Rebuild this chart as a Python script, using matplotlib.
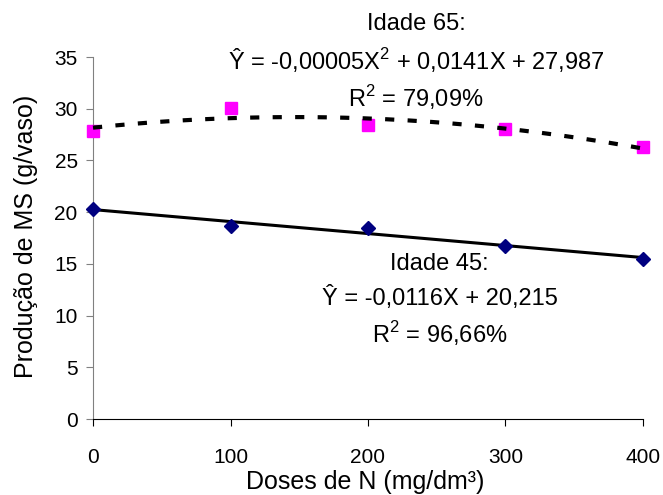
import numpy as np
import matplotlib
matplotlib.use("Agg")
import matplotlib.pyplot as plt

plt.rcParams['font.family'] = ['Liberation Sans', 'DejaVu Sans']

# data
doses = [0, 100, 200, 300, 400]
idade45 = [20.3, 18.65, 18.5, 16.75, 15.45]
idade65 = [27.8, 30.05, 28.4, 28.0, 26.3]
y_ticks = [0, 5, 10, 15, 20, 25, 30, 35]
x_ticks = [0, 100, 200, 300, 400]

fig = plt.figure(figsize=(6.63, 4.95), dpi=100)
ax = fig.add_axes([0.1403, 0.1535, 0.8295, 0.7313])

# trend lines fitted with numpy
xs = np.linspace(0, 400, 200)
fit45 = np.polyfit(doses, idade45, 1)
fit65 = np.polyfit(doses, idade65, 2)

ax.plot(doses, idade65, linestyle='none', marker='s', markersize=8,
        color='#ff00ff', clip_on=False, zorder=3)
ax.plot(xs, np.polyval(fit65, xs), color='black', lw=3,
        linestyle=(0, (2.2, 3.2)), zorder=4, clip_on=False)
ax.plot(xs, np.polyval(fit45, xs), color='black', lw=2.2, zorder=3)
ax.plot(doses, idade45, linestyle='none', marker='D', markersize=7,
        color='#000080', clip_on=False, zorder=4)

ax.set_xlim(0, 400)
ax.set_ylim(0, 35)
ax.set_xticks(x_ticks)
ax.set_yticks(y_ticks)
ax.spines['top'].set_visible(False)
ax.spines['right'].set_visible(False)
ax.spines['left'].set_color('#808080')
ax.spines['bottom'].set_color('black')
ax.tick_params(axis='y', direction='out', length=5, pad=6, labelsize=15,
               color='#808080')
ax.tick_params(axis='x', direction='out', length=5, pad=16, labelsize=15,
               color='black')

ax.set_xlabel('Doses de N (mg/dm³)', fontsize=18, va='center')
ax.xaxis.set_label_coords(0.4945, -0.174)
ax.set_ylabel('Produção de MS (g/vaso)', fontsize=18, va='center')
ax.yaxis.set_label_coords(-0.122, 0.5055)

kw = dict(ha='center', va='center', fontsize=17, transform=ax.transData)
ax.text(235, 38.2, 'Idade 65:', clip_on=False, **kw)
ax.text(235, 34.7, r'Ŷ = -0,00005X$^{\mathregular{2}}$ + 0,0141X + 27,987', clip_on=False, **kw)
ax.text(235, 31.1, r'R$^{\mathregular{2}}$ = 79,09%', **kw)

ax.text(252, 15.0, 'Idade 45:', **kw)
ax.text(252, 11.7, 'Ŷ = -0,0116X + 20,215', **kw)
ax.text(252, 8.3, r'R$^{\mathregular{2}}$ = 96,66%', **kw)

fig.savefig('out.png', dpi=100)
